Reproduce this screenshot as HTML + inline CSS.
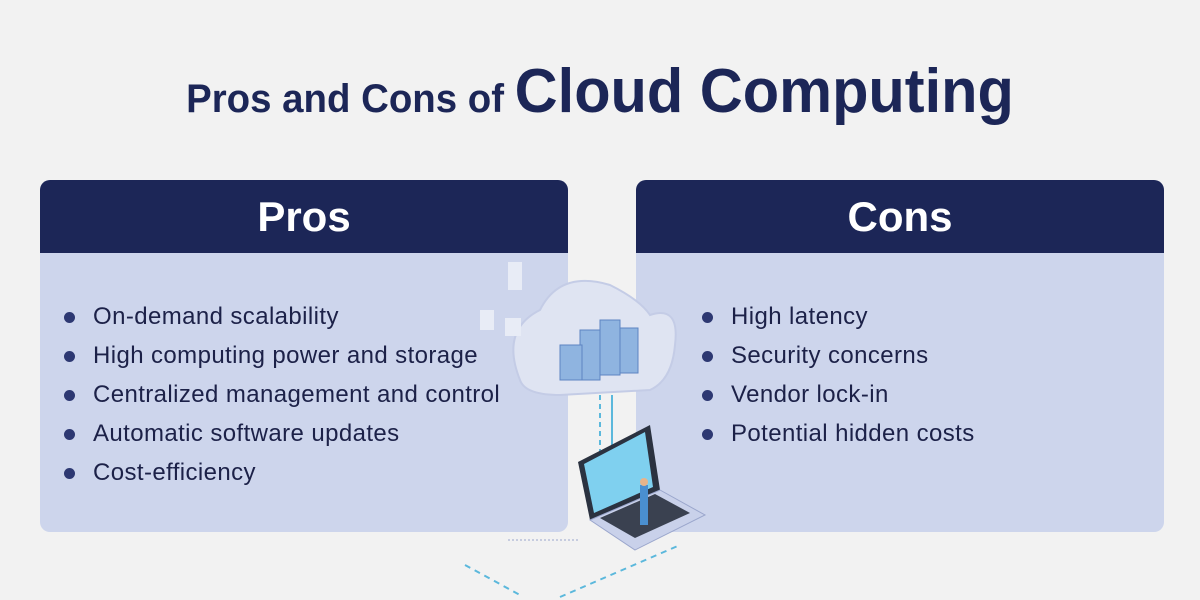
<!DOCTYPE html>
<html><head><meta charset="utf-8"><style>
*{margin:0;padding:0;box-sizing:border-box}
body{width:1200px;height:600px;background:#f2f2f2;font-family:"Liberation Sans",sans-serif;position:relative;overflow:hidden}
.title{position:absolute;top:56px;left:0;width:1200px;text-align:center;color:#1c2657;font-weight:bold;white-space:nowrap;transform:scaleX(0.96)}
.title .a{font-size:40px}.title .b{font-size:62px}
.panel{position:absolute;top:180px;width:528px;height:352px;background:#cdd5ec;border-radius:10px;overflow:hidden}
.panel .h{height:73px;background:#1c2657;color:#fff;font-weight:bold;font-size:42px;text-align:center;line-height:73px}
ul{list-style:none;position:absolute;top:122px;left:0}
li{position:relative;padding-left:53px;font-size:24px;letter-spacing:0.4px;color:#1c2148;height:39px;line-height:30px}
li:before{content:"";position:absolute;left:24px;top:10px;width:11px;height:11px;border-radius:50%;background:#2d3872}
</style></head><body>
<div class="title"><span class="a">Pros and Cons of </span><span class="b">Cloud Computing</span></div>
<div class="panel" style="left:40px"><div class="h">Pros</div>
<ul><li>On-demand scalability</li><li>High computing power and storage</li><li>Centralized management and control</li><li>Automatic software updates</li><li>Cost-efficiency</li></ul></div>
<div class="panel" style="left:636px"><div class="h">Cons</div>
<ul style="left:42px"><li>High latency</li><li>Security concerns</li><li>Vendor lock-in</li><li>Potential hidden costs</li></ul></div>
<svg style="position:absolute;left:0;top:0" width="1200" height="600">
<rect x="568" y="253" width="68" height="279" fill="#f2f2f2"/>
<path d="M520 380 Q500 330 540 310 Q560 270 610 285 Q640 300 650 315 Q680 305 675 345 Q672 380 650 390 L560 395 Q525 395 520 380Z" fill="#dfe4f2" stroke="#c4cce6" stroke-width="2"/>
<g fill="#8fb4e0" stroke="#5d84c2" stroke-width="1">
<rect x="580" y="330" width="20" height="50"/><rect x="600" y="320" width="20" height="55"/><rect x="620" y="328" width="18" height="45"/><rect x="560" y="345" width="22" height="35"/>
</g>
<line x1="600" y1="395" x2="600" y2="455" stroke="#5bb8dc" stroke-width="2" stroke-dasharray="5,4"/>
<line x1="612" y1="395" x2="612" y2="455" stroke="#5bb8dc" stroke-width="2"/>
<polygon points="578,462 650,425 660,490 590,520" fill="#2b3240"/>
<polygon points="584,464 645,432 653,487 594,513" fill="#7fd0ef"/>
<polygon points="590,520 660,490 705,515 635,550" fill="#c9d1ea" stroke="#9aa6cc"/>
<polygon points="600,518 655,494 690,513 635,538" fill="#3a4150"/>
<rect x="640" y="485" width="8" height="40" fill="#4a8fd0"/>
<circle cx="644" cy="482" r="4" fill="#e8b48a"/>
<path d="M465 565 L520 595 M560 597 L680 545" stroke="#5bb8dc" stroke-width="2" stroke-dasharray="6,5" fill="none"/>
<line x1="508" y1="540" x2="580" y2="540" stroke="#9aa6cc" stroke-dasharray="2,2"/>
<g fill="#e8ecf6"><rect x="508" y="262" width="14" height="28"/><rect x="480" y="310" width="14" height="20"/><rect x="505" y="318" width="16" height="18"/></g>
</svg>
</body></html>
